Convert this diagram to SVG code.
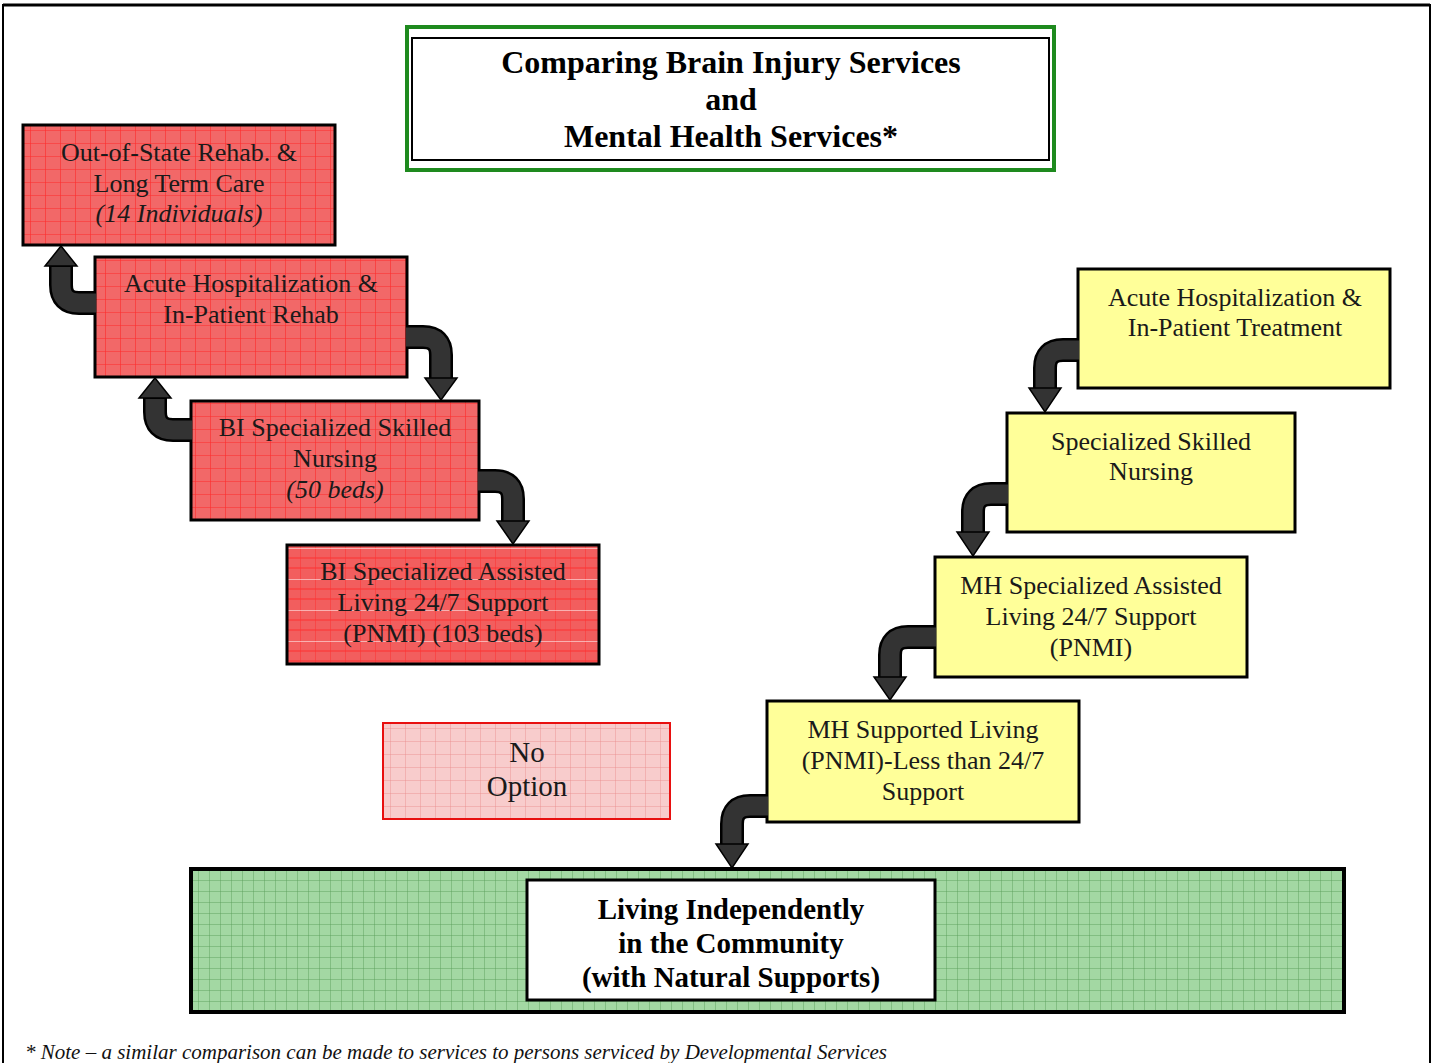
<svg xmlns="http://www.w3.org/2000/svg" width="1435" height="1063" viewBox="0 0 1435 1063">
<defs>
<pattern id="redGrid" width="15" height="13" patternUnits="userSpaceOnUse">
<rect width="15" height="13" fill="#f26868"/>
<path d="M0,0 V13 M0,0 H15" stroke="#ff2a2a" stroke-width="1.2" fill="none"/>
</pattern>
<pattern id="redGrid2" width="15" height="31" patternUnits="userSpaceOnUse" y="548">
<rect width="15" height="31" fill="#f25e5e"/>
<path d="M0,0 V31 M0,10 H15 M0,20 H15" stroke="#ff3030" stroke-width="1" fill="none"/>
<path d="M0,0 H15" stroke="#ffe8e8" stroke-width="1.2"/>
</pattern>
<pattern id="pinkGrid" width="15" height="13" patternUnits="userSpaceOnUse">
<rect width="15" height="13" fill="#f8cccc"/>
<path d="M0,0 V13 M0,0 H15" stroke="#e88a8a" stroke-width="0.8" fill="none"/>
</pattern>
<pattern id="greenGrid" width="11" height="11" patternUnits="userSpaceOnUse">
<rect width="11" height="11" fill="#a3d8a3"/>
<path d="M0,0 V11 M0,0 H11" stroke="#5a9e5a" stroke-width="0.9" fill="none"/>
</pattern>
</defs>
<style>
.t{font-family:"Liberation Serif","Times New Roman",serif;font-size:26px;fill:#1a1a1a;text-anchor:middle}
.i{font-style:italic}
.b{font-weight:bold;font-size:32px;fill:#000}
.red{fill:url(#redGrid);stroke:#000;stroke-width:3}
.yel{fill:#ffff99;stroke:#000;stroke-width:3}
.sh-o{fill:none;stroke:#000;stroke-width:24}
.sh-i{fill:none;stroke:#333;stroke-width:19}
.hd{fill:#333;stroke:#000;stroke-width:1.5;stroke-linejoin:miter}
</style>
<rect width="1435" height="1063" fill="#fff"/>
<rect x="3" y="5" width="1427" height="1080" fill="none" stroke="#000" stroke-width="2"/>
<line x1="3" y1="5" x2="1430" y2="5" stroke="#000" stroke-width="3"/>

<g id="title">
<rect x="407" y="27" width="647" height="143" fill="#fff" stroke="#1e8a1e" stroke-width="4"/>
<rect x="412" y="38" width="637" height="122" fill="#fff" stroke="#000" stroke-width="2"/>
<text class="t b" x="731" y="73">Comparing Brain Injury Services</text>
<text class="t b" x="731" y="110">and</text>
<text class="t b" x="731" y="147">Mental Health Services*</text>
</g>

<g id="bi-outofstate">
<rect class="red" x="23" y="125" width="312" height="120"/>
<text class="t" x="179" y="161">Out-of-State Rehab. &amp;</text>
<text class="t" x="179" y="192">Long Term Care</text>
<text class="t i" x="179" y="222">(14 Individuals)</text>
</g>
<g id="bi-acute">
<rect class="red" x="95" y="257" width="312" height="120"/>
<text class="t" x="251" y="292">Acute Hospitalization &amp;</text>
<text class="t" x="251" y="323">In-Patient Rehab</text>
</g>
<g id="bi-nursing">
<rect class="red" x="191" y="401" width="288" height="119"/>
<text class="t" x="335" y="436">BI Specialized Skilled</text>
<text class="t" x="335" y="467">Nursing</text>
<text class="t i" x="335" y="498">(50 beds)</text>
</g>
<g id="bi-assisted">
<rect x="287" y="545" width="312" height="119" fill="url(#redGrid2)" stroke="#000" stroke-width="3"/>
<text class="t" x="443" y="580">BI Specialized Assisted</text>
<text class="t" x="443" y="611">Living 24/7 Support</text>
<text class="t" x="443" y="642">(PNMI) (103 beds)</text>
</g>
<g id="no-option">
<rect x="383" y="723" width="287" height="96" fill="url(#pinkGrid)" stroke="#e81010" stroke-width="2"/>
<text class="t" x="527" y="762" style="font-size:29px">No</text>
<text class="t" x="527" y="796" style="font-size:29px">Option</text>
</g>

<g id="mh-acute">
<rect class="yel" x="1078" y="269" width="312" height="119"/>
<text class="t" x="1235" y="306">Acute Hospitalization &amp;</text>
<text class="t" x="1235" y="336">In-Patient Treatment</text>
</g>
<g id="mh-nursing">
<rect class="yel" x="1007" y="413" width="288" height="119"/>
<text class="t" x="1151" y="450">Specialized Skilled</text>
<text class="t" x="1151" y="480">Nursing</text>
</g>
<g id="mh-assisted">
<rect class="yel" x="935" y="557" width="312" height="120"/>
<text class="t" x="1091" y="594">MH Specialized Assisted</text>
<text class="t" x="1091" y="625">Living 24/7 Support</text>
<text class="t" x="1091" y="656">(PNMI)</text>
</g>
<g id="mh-supported">
<rect class="yel" x="767" y="701" width="312" height="121"/>
<text class="t" x="923" y="738">MH Supported Living</text>
<text class="t" x="923" y="769">(PNMI)-Less than 24/7</text>
<text class="t" x="923" y="800">Support</text>
</g>

<g id="independent">
<rect x="191" y="869" width="1153" height="143" fill="url(#greenGrid)" stroke="#000" stroke-width="4"/>
<rect x="527" y="880" width="408" height="120" fill="#fff" stroke="#000" stroke-width="3"/>
<text class="t b" x="731" y="919" style="font-size:29px">Living Independently</text>
<text class="t b" x="731" y="953" style="font-size:29px">in the Community</text>
<text class="t b" x="731" y="987" style="font-size:29px">(with Natural Supports)</text>
</g>

<g id="connectors">
<path class="sh-o" d="M95,303 H79 Q61,303 61,285 V266"/>
<path class="sh-i" d="M96,303 H79 Q61,303 61,285 V267"/>
<polygon class="hd" points="45,266 77,266 61,246"/>

<path class="sh-o" d="M191,430 H173 Q155,430 155,412 V398"/>
<path class="sh-i" d="M192,430 H173 Q155,430 155,412 V399"/>
<polygon class="hd" points="139,398 171,398 155,378"/>

<path class="sh-o" d="M407,337 H423 Q441,337 441,355 V378"/>
<path class="sh-i" d="M406,337 H423 Q441,337 441,355 V379"/>
<polygon class="hd" points="425,378 457,378 441,400"/>

<path class="sh-o" d="M479,481 H495 Q513,481 513,499 V521"/>
<path class="sh-i" d="M478,481 H495 Q513,481 513,499 V522"/>
<polygon class="hd" points="497,521 529,521 513,544"/>

<path class="sh-o" d="M1078,350 H1063 Q1045,350 1045,368 V388"/>
<path class="sh-i" d="M1079,350 H1063 Q1045,350 1045,368 V389"/>
<polygon class="hd" points="1029,388 1061,388 1045,412"/>

<path class="sh-o" d="M1007,494 H991 Q973,494 973,512 V532"/>
<path class="sh-i" d="M1008,494 H991 Q973,494 973,512 V533"/>
<polygon class="hd" points="957,532 989,532 973,556"/>

<path class="sh-o" d="M935,637 H908 Q890,637 890,655 V677"/>
<path class="sh-i" d="M936,637 H908 Q890,637 890,655 V678"/>
<polygon class="hd" points="874,677 906,677 890,700"/>

<path class="sh-o" d="M767,806 H750 Q732,806 732,824 V844"/>
<path class="sh-i" d="M768,806 H750 Q732,806 732,824 V845"/>
<polygon class="hd" points="716,844 748,844 732,868"/>
</g>

<text x="25" y="1059" style="font-family:'Liberation Serif','Times New Roman',serif;font-style:italic;font-size:21px;fill:#111">* Note – a similar comparison can be made to services to persons serviced by Developmental Services</text>
</svg>
